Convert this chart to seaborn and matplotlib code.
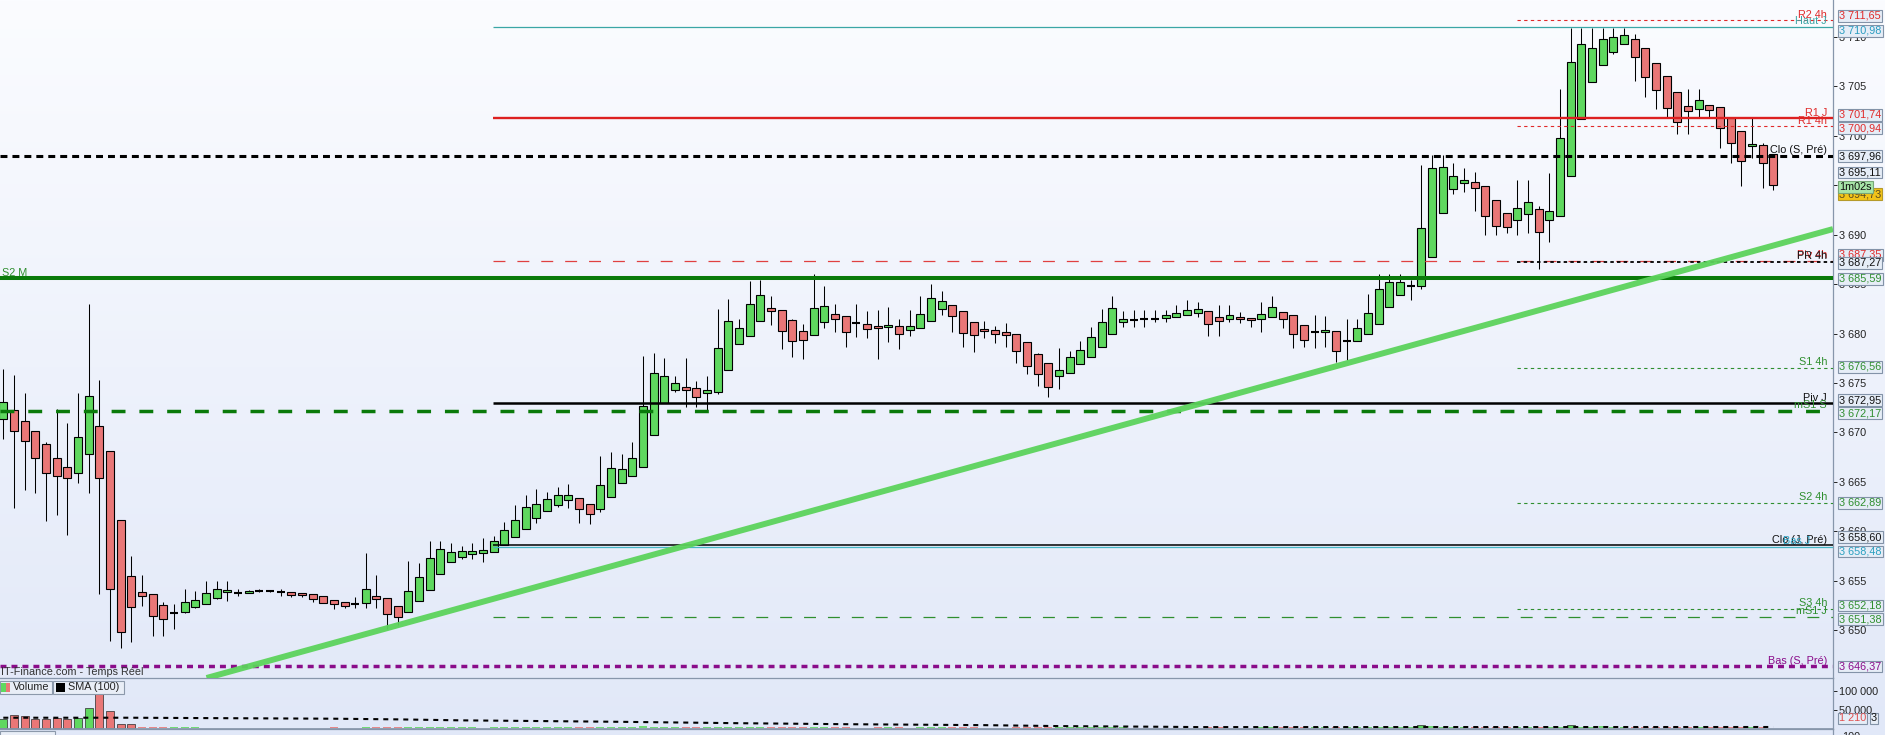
import matplotlib
matplotlib.use('Agg')

import numpy as np
import pandas as pd
import matplotlib.pyplot as plt
import matplotlib.transforms as mtransforms
from matplotlib.colors import LinearSegmentedColormap
from matplotlib.patches import Rectangle
import seaborn as sns

# --- Bougies (index 0 = bougie la plus à gauche) ---
opens = [
    3671.4, 3672.3, 3671.2, 3670.2, 3668.8, 3667.4, 3666.5, 3665.9, 3667.8, 3670.7,
    3668.1, 3661.2, 3655.5, 3653.9, 3653.7, 3652.6, 3651.8, 3651.9, 3652.4, 3652.7,
    3653.3, 3653.9, 3653.8, 3653.8, 3654.0, 3654.0, 3653.9, 3653.9, 3653.8, 3653.7,
    3653.5, 3653.1, 3652.9, 3652.7, 3652.8, 3653.5, 3653.3, 3652.5, 3651.9, 3653.0,
    3654.1, 3655.7, 3656.9, 3657.4, 3657.7, 3657.8, 3657.9, 3658.6, 3659.4, 3660.3,
    3661.4, 3662.1, 3662.7, 3663.2, 3663.4, 3662.8, 3662.3, 3663.5, 3664.9, 3665.6,
    3666.5, 3669.7, 3673.0, 3674.3, 3674.6, 3674.5, 3674.0, 3674.1, 3676.35, 3678.9,
    3679.7, 3681.3, 3682.6, 3682.4, 3681.4, 3680.3, 3679.8, 3681.2, 3682.0, 3681.8,
    3681.1, 3681.0, 3680.8, 3680.7, 3680.8, 3680.4, 3680.6, 3681.3, 3682.5, 3682.9,
    3682.3, 3681.2, 3680.5, 3680.4, 3680.2, 3680.0, 3679.1, 3677.9, 3677.0, 3675.75,
    3676.05, 3676.9, 3677.6, 3678.6, 3679.9, 3681.2, 3681.4, 3681.5, 3681.5, 3681.6,
    3681.7, 3681.9, 3682.1, 3682.3, 3681.7, 3681.5, 3681.7, 3681.6, 3681.5, 3681.7,
    3682.2, 3681.9, 3680.9, 3680.2, 3680.2, 3680.3, 3679.25, 3679.2, 3679.9, 3681.0,
    3682.7, 3683.9, 3684.75, 3684.75, 3687.7, 3692.2, 3694.55, 3695.2, 3695.35, 3694.95,
    3693.45, 3692.2, 3691.5, 3692.1, 3692.6, 3691.5, 3691.9, 3695.9, 3701.7, 3705.4,
    3707.1, 3708.4, 3709.2, 3709.7, 3708.8, 3707.3, 3706.0, 3704.4, 3702.95, 3702.65,
    3703.05, 3702.85, 3701.75, 3700.5, 3698.9, 3699.0, 3698.1,
]
highs = [
    3676.4, 3675.8, 3674.0, 3670.2, 3669.0, 3672.4, 3671.0, 3674.0, 3683.0, 3675.3,
    3668.1, 3661.2, 3657.5, 3655.6, 3653.7, 3652.9, 3652.7, 3654.2, 3654.0, 3655.0,
    3655.0, 3655.0, 3654.2, 3654.1, 3654.2, 3654.1, 3654.2, 3653.9, 3653.8, 3653.7,
    3653.5, 3653.1, 3652.9, 3653.4, 3657.8, 3655.6, 3653.3, 3652.5, 3657.0, 3656.8,
    3659.0, 3659.0, 3658.8, 3658.5, 3658.8, 3659.3, 3659.5, 3661.0, 3662.7, 3663.7,
    3664.3, 3664.0, 3664.5, 3664.8, 3663.4, 3662.8, 3667.6, 3668.0, 3667.8, 3669.0,
    3677.7, 3678.0, 3677.5, 3675.7, 3677.5, 3675.2, 3675.7, 3682.45, 3683.5, 3681.5,
    3685.3, 3685.4, 3683.8, 3682.4, 3681.5, 3681.0, 3686.0, 3684.8, 3683.0, 3681.8,
    3683.0, 3682.3, 3682.4, 3682.7, 3681.5, 3682.4, 3683.8, 3685.0, 3684.3, 3682.9,
    3682.3, 3681.2, 3681.25, 3680.8, 3681.1, 3680.0, 3679.1, 3678.0, 3677.0, 3678.5,
    3678.2, 3679.2, 3680.7, 3682.45, 3683.8, 3682.3, 3682.4, 3682.4, 3682.4, 3682.4,
    3682.9, 3683.4, 3683.2, 3682.3, 3682.9, 3682.9, 3682.2, 3681.6, 3683.2, 3683.8,
    3682.2, 3681.9, 3680.9, 3681.9, 3681.75, 3680.3, 3681.5, 3681.5, 3684.0, 3686.0,
    3686.0, 3686.0, 3685.4, 3697.0, 3698.0, 3698.0, 3697.2, 3696.7, 3696.3, 3694.95,
    3693.45, 3692.2, 3695.5, 3695.5, 3692.9, 3696.2, 3704.7, 3710.9, 3710.9, 3710.9,
    3710.9, 3710.9, 3710.9, 3710.3, 3708.8, 3707.3, 3706.0, 3704.4, 3704.7, 3704.7,
    3703.05, 3702.85, 3701.75, 3700.5, 3701.75, 3699.2, 3698.1,
]
lows = [
    3669.3, 3662.4, 3664.2, 3663.9, 3661.1, 3661.7, 3659.6, 3664.9, 3663.9, 3653.7,
    3648.9, 3648.2, 3648.8, 3652.5, 3649.4, 3649.4, 3650.2, 3651.8, 3652.3, 3652.7,
    3653.2, 3653.0, 3653.5, 3653.8, 3653.9, 3653.9, 3653.5, 3653.4, 3653.4, 3652.9,
    3652.8, 3652.2, 3652.3, 3652.3, 3652.3, 3652.3, 3650.2, 3650.6, 3651.9, 3653.0,
    3654.1, 3655.7, 3656.9, 3657.2, 3657.2, 3656.9, 3657.9, 3658.6, 3659.4, 3660.3,
    3660.9, 3662.1, 3662.5, 3662.4, 3660.9, 3660.8, 3662.0, 3663.5, 3664.9, 3665.6,
    3666.5, 3669.7, 3673.0, 3674.1, 3672.6, 3672.6, 3672.2, 3673.9, 3676.35, 3678.9,
    3679.7, 3681.3, 3680.9, 3678.4, 3677.6, 3677.4, 3679.8, 3680.6, 3680.2, 3678.6,
    3679.6, 3679.5, 3677.4, 3679.1, 3678.4, 3679.7, 3680.6, 3681.3, 3681.9, 3680.2,
    3678.65, 3678.1, 3679.5, 3679.0, 3678.65, 3677.0, 3675.95, 3674.7, 3673.6, 3674.4,
    3676.05, 3676.9, 3677.6, 3678.6, 3679.9, 3680.7, 3680.7, 3680.7, 3681.2, 3681.2,
    3681.7, 3681.9, 3681.7, 3679.7, 3679.7, 3681.2, 3681.1, 3680.7, 3680.2, 3681.7,
    3680.6, 3678.5, 3678.65, 3678.5, 3678.6, 3677.1, 3677.3, 3679.2, 3679.9, 3681.0,
    3682.7, 3683.9, 3683.4, 3684.45, 3687.7, 3692.2, 3694.05, 3694.25, 3692.4, 3690.0,
    3690.0, 3690.2, 3690.0, 3690.2, 3686.5, 3689.2, 3691.9, 3695.9, 3701.7, 3705.4,
    3707.1, 3708.2, 3709.2, 3705.5, 3703.9, 3702.65, 3701.8, 3700.2, 3700.2, 3701.8,
    3701.8, 3698.7, 3697.2, 3694.95, 3697.7, 3694.65, 3694.45,
]
closes = [
    3673.1, 3670.2, 3669.1, 3667.4, 3665.9, 3665.6, 3665.4, 3669.5, 3673.7, 3665.4,
    3654.2, 3649.8, 3652.4, 3653.5, 3651.5, 3651.2, 3651.8, 3652.9, 3653.1, 3653.8,
    3654.2, 3654.1, 3653.8, 3654.0, 3654.0, 3654.0, 3653.9, 3653.6, 3653.6, 3653.2,
    3652.8, 3652.7, 3652.5, 3652.7, 3654.2, 3653.2, 3651.7, 3651.4, 3654.0, 3655.4,
    3657.3, 3658.2, 3657.9, 3658.0, 3658.0, 3658.1, 3659.0, 3660.2, 3661.2, 3662.5,
    3662.8, 3663.3, 3663.7, 3663.7, 3662.3, 3661.8, 3664.7, 3666.4, 3666.3, 3667.45,
    3672.7, 3676.05, 3675.7, 3675.0, 3674.3, 3673.6, 3674.3, 3678.5, 3681.3, 3680.6,
    3683.0, 3683.9, 3682.3, 3680.3, 3679.2, 3679.3, 3682.6, 3682.8, 3681.5, 3680.2,
    3681.1, 3680.5, 3680.6, 3680.9, 3679.9, 3680.8, 3682.0, 3683.6, 3683.3, 3681.8,
    3680.1, 3679.8, 3680.3, 3680.0, 3679.8, 3678.2, 3676.7, 3675.95, 3674.6, 3676.35,
    3677.6, 3678.3, 3679.6, 3681.2, 3682.6, 3681.5, 3681.4, 3681.5, 3681.5, 3681.9,
    3682.1, 3682.4, 3682.5, 3681.0, 3681.3, 3681.9, 3681.5, 3681.4, 3682.0, 3682.7,
    3681.5, 3680.0, 3679.3, 3680.2, 3680.4, 3678.2, 3679.25, 3680.6, 3682.1, 3684.45,
    3685.25, 3685.25, 3684.75, 3690.7, 3696.7, 3696.8, 3695.9, 3695.55, 3694.65, 3691.9,
    3690.9, 3690.8, 3692.7, 3693.25, 3690.3, 3692.4, 3699.7, 3707.4, 3709.2, 3708.8,
    3709.7, 3710.0, 3710.2, 3707.9, 3705.9, 3704.6, 3702.75, 3701.4, 3702.45, 3703.55,
    3702.55, 3700.8, 3699.2, 3697.4, 3699.1, 3697.2, 3695.05,
]
volumes = [
    26000, 37000, 32000, 24500, 24500, 28000, 26000, 28000, 55000, 95000,
    47000, 10500, 10500, 2600, 2600, 1800, 2600, 2600, 1500, 1200,
    1200, 1300, 1000, 1100, 1000, 1000, 1000, 1200, 1100, 1300,
    1400, 1500, 1300, 1200, 3500, 1800, 1700, 2000, 4000, 2000,
    2400, 2000, 1600, 1500, 1500, 1400, 1600, 1800, 2000, 2200,
    1900, 1700, 1600, 1500, 1800, 1700, 2600, 2200, 4000, 4200,
    5000, 2600, 2600, 1500, 2600, 1800, 1600, 2800, 2600, 1800,
    2500, 2200, 1500, 2000, 2000, 1600, 2600, 2000, 1500, 1800,
    1200, 1400, 2000, 1500, 1500, 1400, 2000, 2500, 2000, 1800,
    2000, 1800, 1300, 1300, 1400, 2000, 2500, 2400, 2600, 2200,
    2000, 1800, 2200, 2600, 2800, 1500, 1200, 1200, 1100, 1200,
    1300, 1400, 1300, 1800, 1700, 1400, 1200, 1200, 1600, 1800,
    1600, 2200, 2000, 1600, 1500, 2000, 1700, 1800, 2600, 3000,
    3000, 2800, 2000, 7000, 4500, 3000, 2600, 2400, 2600, 3000,
    3000, 2200, 2800, 2800, 3000, 2800, 4000, 8000, 3500, 3500,
    4500, 3000, 2600, 3000, 3000, 2800, 2800, 2600, 2600, 2400,
    2400, 2600, 2800, 2600, 2000, 2600, 1210,
]
# moyenne mobile SMA (100) du volume, relevée à quelques bougies
sma_idx = [0, 12, 31, 37, 43, 50, 58, 69, 79, 92, 99, 109, 112, 166]
sma_val = [28200, 28200, 25500, 23700, 21000, 19200, 17000, 13200, 10500, 7900, 5300, 3400, 2600, 2800]

# --- Niveaux horizontaux (pivots, plus hauts / plus bas) ---
level_names = ["R2 4h", "Haut J", "R1 J", "R1 4h", "Clo (S, Pré)", "Piv 4h", "PR 4h",
               "S2 M", "S1 4h", "Piv J", "mS1 S", "S2 4h", "Clo (J, Pré)", "Bas J",
               "S3 4h", "mS1 J", "Bas (S, Pré)", "Bas (J, Pré)"]
level_values = [3711.65, 3710.98, 3701.74, 3700.94, 3697.96, 3687.35, 3687.27,
                3685.59, 3676.56, 3672.95, 3672.17, 3662.89, 3658.60, 3658.48,
                3652.18, 3651.38, 3646.37, 3644.10]
# étiquettes de prix sans ligne : dernier cours etc.
price_values = [3695.11, 3694.73]
last_volume_label = 1210
timer_label = "1m02s"

# ligne de tendance (deux points relevés)
trend_x = [19.4, 171.6]
trend_y = [3645.3, 3690.55]

yticks_main = list(range(3650, 3711, 5))
yticks_vol = [50000, 100000]

# --- styles ---
W, H = 1885, 735
PLOT_W = 1833
XMIN, XMAX = -0.31, 171.6
START_FULL, START_J, START_4H = XMIN, 45.9, 142.0

RED = '#e02a2a'
TEAL = '#3aa6a6'
GREEN_D = '#0a7a0a'
GREEN_L = '#2f8f2f'
PURPLE = '#8a0c8a'
BOX_FC = '#e6edf7'
BOX_EC = '#8393a8'
UP = '#5fd85f'
DOWN = '#e97777'

styles = {
    "R2 4h":        dict(color=RED, lw=0.8, dash=(2.4, 2.4), start=START_4H, txt=RED, box=RED, dy=-4.5),
    "Haut J":       dict(color=TEAL, lw=0.9, dash=None, start=START_J, txt=TEAL, box='#2a9cc0', dy=4.0),
    "R1 J":         dict(color='#dd2020', lw=1.7, dash=None, start=START_J, txt=RED, box=RED, dy=-3.4),
    "R1 4h":        dict(color=RED, lw=0.8, dash=(2.4, 2.4), start=START_4H, txt=RED, box=RED, dy=2.0),
    "Clo (S, Pré)": dict(color='black', lw=2.2, dash=(5.0, 3.6), start=START_FULL, txt='#111111', box='#111111', dy=0.4),
    "Piv 4h":       dict(color='#e04040', lw=0.9, dash=(8.6, 8.6), start=START_J, txt=RED, box=RED, dy=-5.8),
    "PR 4h":        dict(color='black', lw=1.3, dash=(2.5, 2.3), start=START_4H, txt='#111111', box='#111111', dy=1.3),
    "S2 M":         dict(color=GREEN_D, lw=2.9, dash=None, start=START_FULL, txt=GREEN_L, box=GREEN_L, dy=0.6, left=True),
    "S1 4h":        dict(color=GREEN_L, lw=0.8, dash=(2.4, 2.4), start=START_4H, txt=GREEN_L, box=GREEN_L, dy=-0.6),
    "Piv J":        dict(color='black', lw=1.8, dash=None, start=START_J, txt='#111111', box='#111111', dy=-3.0),
    "mS1 S":        dict(color=GREEN_D, lw=2.5, dash=(10.0, 10.0), start=START_FULL, txt=GREEN_L, box=GREEN_L, dy=2.3),
    "S2 4h":        dict(color=GREEN_L, lw=0.8, dash=(2.4, 2.4), start=START_4H, txt=GREEN_L, box=GREEN_L, dy=0.0),
    "Clo (J, Pré)": dict(color='black', lw=1.1, dash=None, start=START_J, txt='#111111', box='#111111', dy=-8.3),
    "Bas J":        dict(color='#45b5c5', lw=0.9, dash=None, start=START_J, txt='#2aa0c0', box='#2aa0c0', dy=4.9, xr=1810),
    "S3 4h":        dict(color=GREEN_L, lw=0.8, dash=(2.4, 2.4), start=START_4H, txt=GREEN_L, box=GREEN_L, dy=-3.3),
    "mS1 J":        dict(color=GREEN_L, lw=0.9, dash=(8.6, 8.6), start=START_J, txt=GREEN_L, box=GREEN_L, dy=2.3),
    "Bas (S, Pré)": dict(color=PURPLE, lw=2.5, dash=(4.3, 3.6), start=START_FULL, txt=PURPLE, box=PURPLE, dy=0.0),
    "Bas (J, Pré)": dict(color=PURPLE, lw=2.5, dash=(4.3, 3.6), start=START_FULL, txt=PURPLE, box=None, dy=0.0, clip=True),
}
price_styles = [dict(fc=BOX_FC, ec=BOX_EC, txt='#111111', dy=-11.5),
                dict(fc='#f2c41a', ec='#b59a2a', txt='#5a4a20', dy=6.4)]

FS = 7.8


def fr(v, dec=2):
    s = f"{v:,.{dec}f}"
    return s.replace(",", " ").replace(".", ",")


def frac_rect(x, y, w, h):
    # pixels (origine en haut à gauche) -> fraction de figure
    return [x / W, 1 - (y + h) / H, w / W, h / H]


def main():
    assert len(opens) == len(highs) == len(lows) == len(closes) == len(volumes)

    sns.set_theme(style="white")
    plt.rcParams['font.family'] = ['Liberation Sans', 'DejaVu Sans']
    plt.rcParams['lines.scale_dashes'] = False
    plt.rcParams['axes.unicode_minus'] = False

    df = pd.DataFrame({'o': opens, 'h': highs, 'l': lows, 'c': closes, 'v': volumes})
    df['i'] = np.arange(len(df))
    up = df.c > df.o
    down = df.c < df.o
    flat = df.c == df.o

    fig = plt.figure(figsize=(W / 100, H / 100), dpi=100)

    # fond dégradé
    bg = fig.add_axes([0, 0, 1, 1], zorder=-5)
    bg.imshow(np.linspace(0, 1, 256).reshape(-1, 1), aspect='auto', extent=[0, 1, 0, 1],
              cmap=LinearSegmentedColormap.from_list('fond', ['#fbfcff', '#e1e8f8']))
    bg.set_axis_off()

    ax = fig.add_axes(frac_rect(0, 0, PLOT_W, 678))
    axv = fig.add_axes(frac_rect(0, 678, PLOT_W, 51))
    axb = fig.add_axes(frac_rect(0, 729, PLOT_W, 6))
    for a in (ax, axv, axb):
        a.set_facecolor('none')
        for s in ('top', 'left'):
            a.spines[s].set_visible(False)
        for s in ('right', 'bottom'):
            a.spines[s].set_color('#8796ab')
            a.spines[s].set_linewidth(0.9)
        a.set_xticks([])
    axb.spines['bottom'].set_visible(False)
    axb.spines['top'].set_visible(True)
    axb.spines['top'].set_color('#8796ab')
    axb.set_yticks([])

    # bougies
    ax.vlines(df.i, df.l, df.h, color='black', lw=0.75, zorder=2)
    ax.bar(df.i[up], (df.c - df.o)[up], bottom=df.o[up], width=0.75, color=UP,
           edgecolor='black', linewidth=0.8, zorder=2.1)
    ax.bar(df.i[down], (df.o - df.c)[down], bottom=df.c[down], width=0.75, color=DOWN,
           edgecolor='black', linewidth=0.8, zorder=2.1)
    ax.hlines(df.o[flat], df.i[flat] - 0.375, df.i[flat] + 0.375, color='black', lw=1.5, zorder=2.1)

    blend = mtransforms.blended_transform_factory(ax.transAxes, ax.transData)

    def shifted(tr, dx_px, dy_px):
        return tr + mtransforms.ScaledTranslation(dx_px / 100, -dy_px / 100, fig.dpi_scale_trans)

    # niveaux
    for name, v in zip(level_names, level_values):
        st = styles[name]
        ls = (0, st['dash']) if st['dash'] else '-'
        ax.plot([st['start'], XMAX], [v, v], color=st['color'], lw=st['lw'], ls=ls, zorder=3,
                solid_capstyle='butt', dash_capstyle='butt')
        if st.get('left'):
            ax.text(2 / PLOT_W, v, name, transform=shifted(blend, 0, -0.6), ha='left', va='bottom',
                    fontsize=FS, color=st['txt'], zorder=6)
        else:
            xr = st.get('xr', 1827) / PLOT_W
            t = ax.text(xr, v, name, transform=shifted(blend, 0, -0.6), ha='right', va='bottom',
                        fontsize=FS, color=st['txt'], zorder=6)
            if st.get('clip'):
                t.set_clip_on(True)
        if st['box']:
            ax.text(1.0, v, fr(v), transform=shifted(blend, 6.3, st['dy']), ha='left', va='center',
                    fontsize=FS, color=st['box'], zorder=8,
                    bbox=dict(boxstyle='square,pad=0.08', fc=BOX_FC, ec=BOX_EC, lw=0.8))

    for v, ps in zip(price_values, price_styles):
        ax.text(1.0, v, fr(v), transform=shifted(blend, 6.3, ps['dy']), ha='left', va='center',
                fontsize=FS, color=ps['txt'], zorder=8,
                bbox=dict(boxstyle='square,pad=0.08', fc=ps['fc'], ec=ps['ec'], lw=0.8))
    ax.text(1.0, price_values[1], timer_label, transform=shifted(blend, 6.3, -0.9), ha='left',
            va='center', fontsize=FS, color='#111111', zorder=9,
            bbox=dict(boxstyle='square,pad=0.08', fc='#a8e6a8', ec='#78a878', lw=0.8))

    # ligne de tendance
    ax.axline((trend_x[0], trend_y[0]), (trend_x[1], trend_y[1]), color='#5cd35c', lw=4.3,
              alpha=0.95, zorder=4, solid_capstyle='butt')

    ax.set_xlim(XMIN, XMAX)
    ax.set_ylim(3645.20, 3713.69)
    ax.yaxis.tick_right()
    ax.set_yticks(yticks_main)
    ax.set_yticklabels([fr(v, 0) for v in yticks_main])
    ax.tick_params(axis='y', direction='out', length=2.9, width=0.7, colors='#222222',
                   pad=1.4, labelsize=FS)
    ax.set_xlabel('')
    ax.set_ylabel('')

    # volume : les petites barres sans contour (quasi invisibles sur la référence)
    big = df.v > 6000
    vol_colors = np.where(down, DOWN, UP)
    axv.bar(df.i[big], df.v[big], width=0.75, color=vol_colors[big.values], edgecolor='#2a2a2a',
            linewidth=0.5, zorder=2)
    axv.bar(df.i[~big], df.v[~big], width=0.75, color=vol_colors[~big.values], edgecolor='none',
            alpha=0.85, zorder=2)
    sns.lineplot(x=sma_idx, y=sma_val, ax=axv, color='black', lw=1.5, linestyle=(0, (3.6, 3.6)), zorder=4)
    axv.set_xlim(XMIN, XMAX)
    axv.set_ylim(-2632, 136842)
    axv.yaxis.tick_right()
    axv.set_yticks(yticks_vol)
    axv.set_yticklabels([fr(v, 0) for v in yticks_vol])
    axv.tick_params(axis='y', direction='out', length=2.9, width=0.7, colors='#222222',
                    pad=1.4, labelsize=FS)
    axv.set_xlabel('')
    axv.set_ylabel('')
    axv.set_xticks([])

    vblend = mtransforms.blended_transform_factory(axv.transAxes, axv.transData)
    axv.text(1.0, 26300, fr(last_volume_label, 0), transform=shifted(vblend, 6.3, 0), ha='left',
             va='center', fontsize=FS, color='#e05050', zorder=8,
             bbox=dict(boxstyle='square,pad=0.08', fc=BOX_FC, ec=BOX_EC, lw=0.8))
    axv.text(1.0, 26300, "3", transform=shifted(vblend, 38, 0), ha='left', va='center',
             fontsize=FS, color='#111111', zorder=7,
             bbox=dict(boxstyle='square,pad=0.08', fc=BOX_FC, ec=BOX_EC, lw=0.8))

    # textes et légendes du bas
    fig.text(1 / W, 1 - 672 / H, "IT-Finance.com - Temps Réel", ha='left', va='center',
             fontsize=FS, color='#333333')
    fig.add_artist(Rectangle(frac_rect(0, 681, 52, 13)[:2], 52 / W, 13 / H, transform=fig.transFigure,
                             fc='#e9eef7', ec='#8c99ab', lw=0.8))
    fig.add_artist(Rectangle(frac_rect(1, 683, 4.5, 9)[:2], 4.5 / W, 9 / H, transform=fig.transFigure,
                             fc=UP, ec='none'))
    fig.add_artist(Rectangle(frac_rect(5.5, 683, 4.5, 9)[:2], 4.5 / W, 9 / H, transform=fig.transFigure,
                             fc=DOWN, ec='none'))
    fig.text(13 / W, 1 - 687.5 / H, "Volume", ha='left', va='center', fontsize=FS, color='#222222')
    fig.add_artist(Rectangle(frac_rect(53, 681, 71, 13)[:2], 71 / W, 13 / H, transform=fig.transFigure,
                             fc='#e9eef7', ec='#8c99ab', lw=0.8))
    fig.add_artist(Rectangle(frac_rect(56, 683, 9, 9)[:2], 9 / W, 9 / H, transform=fig.transFigure,
                             fc='black', ec='none'))
    fig.text(68 / W, 1 - 687.5 / H, "SMA (100)", ha='left', va='center', fontsize=FS, color='#222222')
    fig.add_artist(Rectangle(frac_rect(0, 731, 55, 8)[:2], 55 / W, 8 / H, transform=fig.transFigure,
                             fc='#e9eef7', ec='#8c99ab', lw=0.8))
    fig.text(1842 / W, 1 - 732 / H, "100", ha='left', va='top', fontsize=FS, color='#222222')

    fig.savefig('out.png', dpi=100)
    plt.close(fig)


if __name__ == '__main__':
    main()
